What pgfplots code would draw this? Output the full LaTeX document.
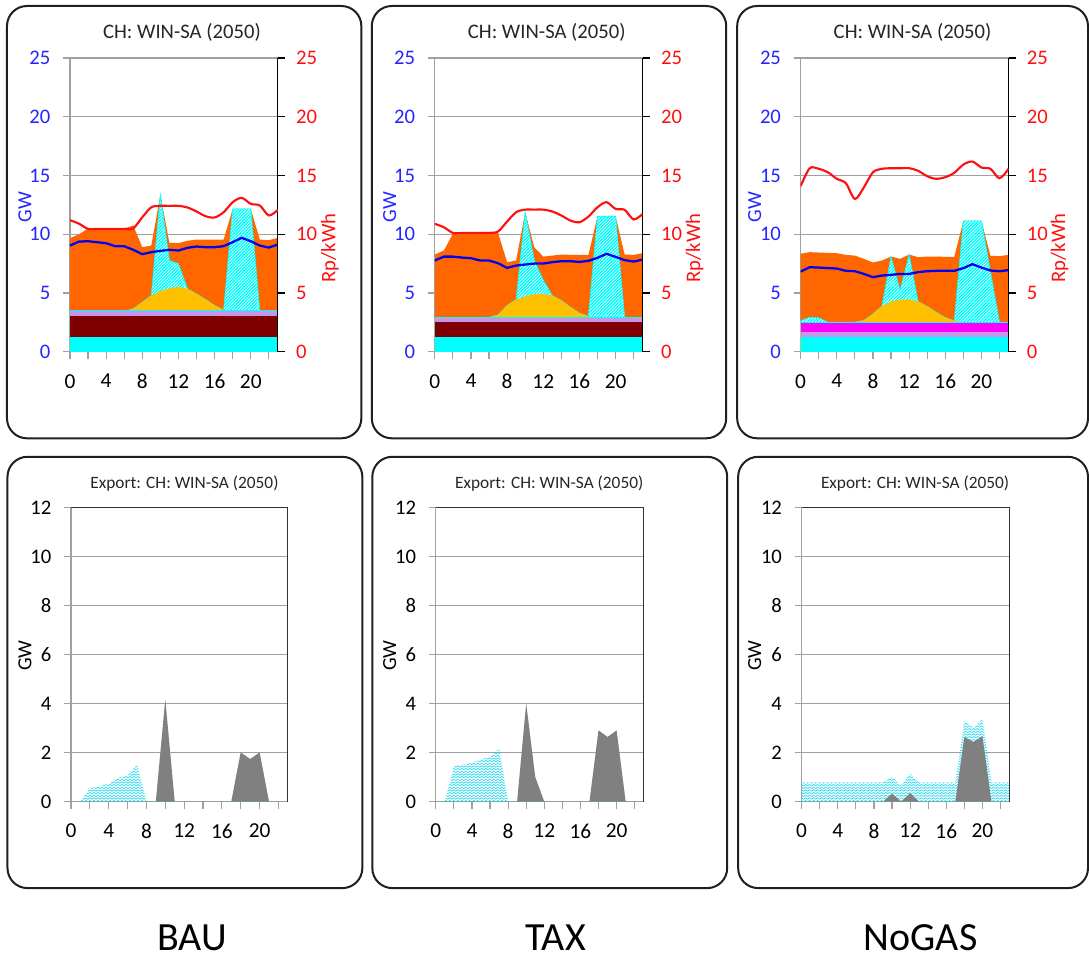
\documentclass[border=0pt]{standalone}
\usepackage{fontspec}
\setmainfont{Carlito}
\usepackage{pgfplots}
\pgfplotsset{compat=1.18}
\usepackage{pgfplotstable}
\usetikzlibrary{patterns}

\definecolor{cy}{HTML}{00FFFF}
\definecolor{mr}{HTML}{7F0000}
\definecolor{lv}{HTML}{C896E8}
\definecolor{mg}{HTML}{FF00FF}
\definecolor{ye}{HTML}{FFC000}
\definecolor{og}{HTML}{FF6600}
\definecolor{bl}{HTML}{0000F0}
\definecolor{bltext}{HTML}{2525FF}
\definecolor{rd}{HTML}{FF1010}
\definecolor{gy}{HTML}{808080}
\definecolor{zz}{HTML}{20D8F0}
\definecolor{gridc}{HTML}{A0A0A0}

\pgfdeclarepatternformonly{hatch}{\pgfpoint{-1pt}{-1pt}}{\pgfpoint{3.4pt}{3.4pt}}{\pgfpoint{2.4pt}{2.4pt}}%
{\pgfsetlinewidth{0.85pt}\pgfpathmoveto{\pgfpoint{-1pt}{-1pt}}\pgfpathlineto{\pgfpoint{3.4pt}{3.4pt}}\pgfusepath{stroke}}
\pgfdeclarepatternformonly{zigzag}{\pgfpoint{-0.5pt}{-0.5pt}}{\pgfpoint{3.5pt}{2.5pt}}{\pgfpoint{3pt}{2pt}}%
{\pgfsetlinewidth{0.5pt}\pgfpathmoveto{\pgfpoint{0pt}{0.3pt}}\pgfpathlineto{\pgfpoint{1.5pt}{1.4pt}}\pgfpathlineto{\pgfpoint{3pt}{0.3pt}}\pgfusepath{stroke}}

\newcommand{\tfs}{\fontsize{15.5}{18}\selectfont}
\newcommand{\xfs}{\fontsize{16}{18}\selectfont}

% h: hour, so: solar top, ha: hatched top, or: orange top (GW), de: demand (GW), pr: price (Rp/kWh)
\pgfplotstableread{
h  so    ha     or     de    pr
0  3.46  3.46   9.67   9.04  11.2
1  3.46  3.46   10.0   9.38  10.9
2  3.46  3.46   10.5   9.41  10.46
3  3.46  3.46   10.5   9.33  10.46
4  3.46  3.46   10.5   9.24  10.46
5  3.46  3.46   10.5   8.99  10.46
6  3.46  3.46   10.5   8.99  10.46
7  3.66  3.66   10.75  8.68  10.5
8  4.22  4.22   8.9    8.31  11.45
9  4.79  4.79   9.05   8.48  12.3
10 5.16  13.35  13.35  8.59  12.42
11 5.42  7.77   9.27   8.68  12.42
12 5.53  7.49   9.25   8.62  12.42
13 5.36  5.36   9.45   8.85  12.28
14 4.93  4.93   9.55   8.96  11.94
15 4.45  4.45   9.55   8.9   11.54
16 3.94  3.94   9.55   8.9   11.43
17 3.57  3.57   9.55   8.99  11.88
18 3.46  12.16  12.16  9.33  12.73
19 3.46  12.16  12.16  9.7   13.1
20 3.46  12.16  12.16  9.41  12.59
21 3.46  3.46   9.55   9.04  12.45
22 3.46  3.46   9.5    8.87  11.6
23 3.46  3.46   9.7    9.13  12.08
}\bau

\pgfplotstableread{
h  so    ha     or     de    pr
0  2.92  2.92   8.28   7.77  10.89
1  2.92  2.92   8.62   8.1   10.6
2  2.92  2.92   10.04  8.1   10.12
3  2.92  2.92   10.12  8.02  10.12
4  2.92  2.92   10.12  7.97  10.12
5  2.92  2.92   10.12  7.77  10.12
6  2.92  2.92   10.12  7.77  10.12
7  3.15  3.15   10.12  7.54  10.24
8  3.94  3.94   7.63   7.14  11.09
9  4.45  4.45   7.77   7.34  11.88
10 4.73  11.88  11.88  7.43  12.1
11 4.9   7.8    8.9    7.51  12.1
12 4.93  6.1    8.1    7.51  12.1
13 4.79  4.79   8.19   7.63  11.94
14 4.37  4.37   8.28   7.71  11.6
15 3.8   3.8    8.25   7.71  11.17
16 3.29  3.29   8.25   7.65  11.03
17 3.03  3.03   8.25   7.74  11.51
18 2.92  11.54  11.54  8.0   12.3
19 2.92  11.54  11.54  8.34  12.73
20 2.92  11.54  11.54  8.08  12.16
21 2.92  2.92   8.28   7.8   12.08
22 2.92  2.92   8.25   7.68  11.26
23 2.92  2.92   8.4    7.85  11.74
}\tax

\pgfplotstableread{
h  so    ha     or     de    pr
0  2.52  2.65   8.34   6.83  14.09
1  2.52  2.93   8.48   7.2   15.62
2  2.52  2.9    8.45   7.17  15.57
3  2.52  2.52   8.42   7.12  15.28
4  2.52  2.52   8.39   7.09  14.72
5  2.52  2.52   8.25   6.89  14.35
6  2.52  2.52   8.19   6.86  13.01
7  2.67  2.67   7.91   6.63  14.0
8  3.23  3.23   7.6    6.35  15.28
9  3.88  3.88   7.77   6.49  15.57
10 4.28  8.11   8.11   6.55  15.62
11 4.45  5.22   7.91   6.63  15.62
12 4.48  8.28   8.28   6.63  15.62
13 4.28  4.28   8.05   6.78  15.4
14 3.86  3.86   8.11   6.86  14.94
15 3.37  3.37   8.11   6.89  14.72
16 2.92  2.92   8.08   6.89  14.86
17 2.64  2.64   8.08   6.89  15.23
18 2.52  11.14  11.14  7.12  15.93
19 2.52  11.14  11.14  7.46  16.19
20 2.52  11.14  11.14  7.17  15.68
21 2.52  6.8    8.17   6.92  15.57
22 2.52  2.52   8.14   6.86  14.77
23 2.52  2.52   8.25   6.95  15.57
}\nogas

% export: g = grey area top, ct = cyan zigzag area top (GW)
\pgfplotstableread{
h  g     ct
0  0     0
1  0     0
2  0     0.54
3  0     0.63
4  0     0.72
5  0     0.97
6  0     1.06
7  0     1.51
8  0     0
9  0     0
10 4.16  4.16
11 0     0
12 0     0
13 0     0
14 0     0
15 0     0
16 0     0
17 0     0
18 2.01  2.01
19 1.74  1.74
20 2.01  2.01
21 0     0
22 0     0
23 0     0
}\bauex

\pgfplotstableread{
h  g     ct
0  0     0
1  0     0
2  0     1.44
3  0     1.51
4  0     1.58
5  0     1.71
6  0     1.85
7  0     2.15
8  0     0
9  0     0
10 4.0   4.0
11 1.0   1.0
12 0     0
13 0     0
14 0     0
15 0     0
16 0     0
17 0     0
18 2.91  2.91
19 2.64  2.64
20 2.91  2.91
21 0     0
22 0     0
23 0     0
}\taxex

\pgfplotstableread{
h  g     ct
0  0     0.78
1  0     0.78
2  0     0.78
3  0     0.78
4  0     0.78
5  0     0.78
6  0     0.78
7  0     0.78
8  0     0.78
9  0     0.78
10 0.33  1.0
11 0     0.66
12 0.35  1.14
13 0     0.78
14 0     0.78
15 0     0.78
16 0     0.78
17 0     0.78
18 2.64  3.3
19 2.44  3.0
20 2.67  3.37
21 0     0.78
22 0     0.78
23 0     0.78
}\nogasex

\pgfplotsset{
  base/.style={scale only axis, height=220.5pt, xmin=0, xmax=23, anchor=south west,
    tick label style={font=\tfs}, /pgf/number format/assume math mode=true},
  leftax/.style={base, axis x line*=bottom, axis y line*=left,
    axis line style={draw=gridc, line width=0.9pt},
    xtick={0,4,...,20}, minor xtick={2,6,...,22},
    ymajorgrids, grid style={gridc, line width=0.9pt},
    tick align=outside, major tick length=5.25pt, minor tick length=5.25pt,
    tick style={gridc, line width=0.9pt},
    xticklabel style={text=black, font=\xfs, yshift=-8pt},
    yticklabel shift=6pt},
  topL/.style={leftax, width=156pt, ymin=0, ymax=25, ytick={0,5,...,25},
    yticklabel style={text=bltext}},
  topR/.style={base, width=156pt, ymin=0, ymax=25, axis x line=none, axis y line*=right,
    axis line style={draw=black, line width=0.9pt}, ytick={0,5,...,25},
    tick align=outside, major tick length=5.25pt, tick style={black, line width=0.9pt},
    yticklabel style={text=rd}, yticklabel shift=5pt},
  botL/.style={leftax, ymin=0, ymax=12, ytick={0,2,...,12}, yticklabel style={text=black}},
  botR/.style={base, ymin=0, ymax=12, axis x line*=top, axis y line*=right,
    axis line style={draw=black!80, line width=0.9pt}, xtick=\empty, ytick=\empty},
}

\newcommand{\toplayers}[1]{%
  \addplot[fill=og, draw=none] table[x=h,y=or]{#1} \closedcycle;
  \addplot[fill=white, draw=none] table[x=h,y=ha]{#1} \closedcycle;
  \addplot[pattern=hatch, pattern color=cy, draw=cy, line width=0.5pt] table[x=h,y=ha]{#1} \closedcycle;
  \addplot[fill=ye, draw=none] table[x=h,y=so]{#1} \closedcycle;
}

\begin{document}
\begin{tikzpicture}
\begin{scope}[x=0.75pt,y=-0.75pt]
\useasboundingbox (0,0) rectangle (1089,960);
\end{scope}

% ---------- BAU top ----------
\begin{axis}[topL, at={(52.5pt,-264pt)}]
  \toplayers{\bau}
  \addplot[fill=cy, draw=none] coordinates {(0,3.52) (23,3.52)} \closedcycle;
  \addplot[fill=lv, draw=none] coordinates {(0,3.46) (23,3.46)} \closedcycle;
  \addplot[fill=mr, draw=none] coordinates {(0,3.03) (23,3.03)} \closedcycle;
  \addplot[fill=cy, draw=none] coordinates {(0,1.25) (23,1.25)} \closedcycle;
  \addplot[bl, line width=1.7pt] table[x=h,y=de]{\bau};
\end{axis}
\begin{axis}[topR, at={(52.5pt,-264pt)}]
  \addplot[rd, line width=1.6pt, smooth] table[x=h,y=pr]{\bau};
\end{axis}

% ---------- TAX top ----------
\begin{axis}[topL, at={(326.25pt,-264pt)}]
  \toplayers{\tax}
  \addplot[fill=cy, draw=none] coordinates {(0,2.98) (23,2.98)} \closedcycle;
  \addplot[fill=lv, draw=none] coordinates {(0,2.92) (23,2.92)} \closedcycle;
  \addplot[fill=mr, draw=none] coordinates {(0,2.52) (23,2.52)} \closedcycle;
  \addplot[fill=cy, draw=none] coordinates {(0,1.25) (23,1.25)} \closedcycle;
  \addplot[bl, line width=1.7pt] table[x=h,y=de]{\tax};
\end{axis}
\begin{axis}[topR, at={(326.25pt,-264pt)}]
  \addplot[rd, line width=1.6pt, smooth] table[x=h,y=pr]{\tax};
\end{axis}

% ---------- NoGAS top ----------
\begin{axis}[topL, at={(600.75pt,-264pt)}]
  \toplayers{\nogas}
  \addplot[fill=cy, draw=none] coordinates {(0,2.52) (23,2.52)} \closedcycle;
  \addplot[fill=mg, draw=none] coordinates {(0,2.47) (23,2.47)} \closedcycle;
  \addplot[fill=lv, draw=none] coordinates {(0,1.67) (23,1.67)} \closedcycle;
  \addplot[fill=cy, draw=none] coordinates {(0,1.25) (23,1.25)} \closedcycle;
  \addplot[bl, line width=1.7pt] table[x=h,y=de]{\nogas};
\end{axis}
\begin{axis}[topR, at={(600.75pt,-264pt)}]
  \addplot[rd, line width=1.6pt, smooth] table[x=h,y=pr]{\nogas};
\end{axis}

% ---------- Export charts ----------
\begin{axis}[botL, width=162.75pt, at={(53.25pt,-601.5pt)}]
  \addplot[pattern=zigzag, pattern color=zz, draw=none] table[x=h,y=ct]{\bauex} \closedcycle;
  \addplot[fill=gy, draw=none] table[x=h,y=g]{\bauex} \closedcycle;
\end{axis}
\begin{axis}[botR, width=162.75pt, at={(53.25pt,-601.5pt)}]
  \addplot[draw=none] coordinates {(0,0)};
\end{axis}

\begin{axis}[botL, width=156pt, at={(327pt,-601.5pt)}]
  \addplot[pattern=zigzag, pattern color=zz, draw=none] table[x=h,y=ct]{\taxex} \closedcycle;
  \addplot[fill=gy, draw=none] table[x=h,y=g]{\taxex} \closedcycle;
\end{axis}
\begin{axis}[botR, width=156pt, at={(327pt,-601.5pt)}]
  \addplot[draw=none] coordinates {(0,0)};
\end{axis}

\begin{axis}[botL, width=156pt, at={(601.5pt,-601.5pt)}]
  \addplot[pattern=zigzag, pattern color=zz, draw=none] table[x=h,y=ct]{\nogasex} \closedcycle;
  \addplot[fill=gy, draw=none] table[x=h,y=g]{\nogasex} \closedcycle;
\end{axis}
\begin{axis}[botR, width=156pt, at={(601.5pt,-601.5pt)}]
  \addplot[draw=none] coordinates {(0,0)};
\end{axis}

\begin{scope}[x=0.75pt,y=-0.75pt]
  \begin{scope}[line width=1.5pt, draw=black!88, rounded corners=15pt]
    \draw (7,6) rectangle (361.5,438.5);
    \draw (372,6) rectangle (726.5,438.5);
    \draw (737.5,6) rectangle (1088.5,438.5);
    \draw (7.5,457) rectangle (362.5,888.5);
    \draw (372.5,457) rectangle (727.5,888.5);
    \draw (738.5,457) rectangle (1088.5,888.5);
  \end{scope}
  \foreach \cx in {182,547,913} {
    \node[text=black!85, font=\fontsize{15.5}{18}\selectfont] at (\cx,32) {CH: WIN-SA (2050)};
  }
  \foreach \cx in {184.5,549.5,915.5} {
    \node[text=black!85, font=\fontsize{13}{15}\selectfont] at (\cx,484) {Export: CH: WIN-SA (2050)};
  }
  \foreach \gx/\rx in {25/330,390/695,755/1060} {
    \node[rotate=90, text=bltext, font=\fontsize{15}{16}\selectfont] at (\gx,207) {GW};
    \node[rotate=90, text=rd, font=\fontsize{15.5}{18}\selectfont] at (\rx,248) {Rp/kWh};
    \node[rotate=90, text=black, font=\fontsize{15}{16}\selectfont] at (\gx,656) {GW};
  }
  \node[inner sep=0pt, font=\fontsize{30}{32}\selectfont] at (192,938) {BAU};
  \node[inner sep=0pt, font=\fontsize{30}{32}\selectfont] at (556,938) {TAX};
  \node[inner sep=0pt, font=\fontsize{30}{32}\selectfont] at (921,938) {NoGAS};
\end{scope}
\end{tikzpicture}
\end{document}
